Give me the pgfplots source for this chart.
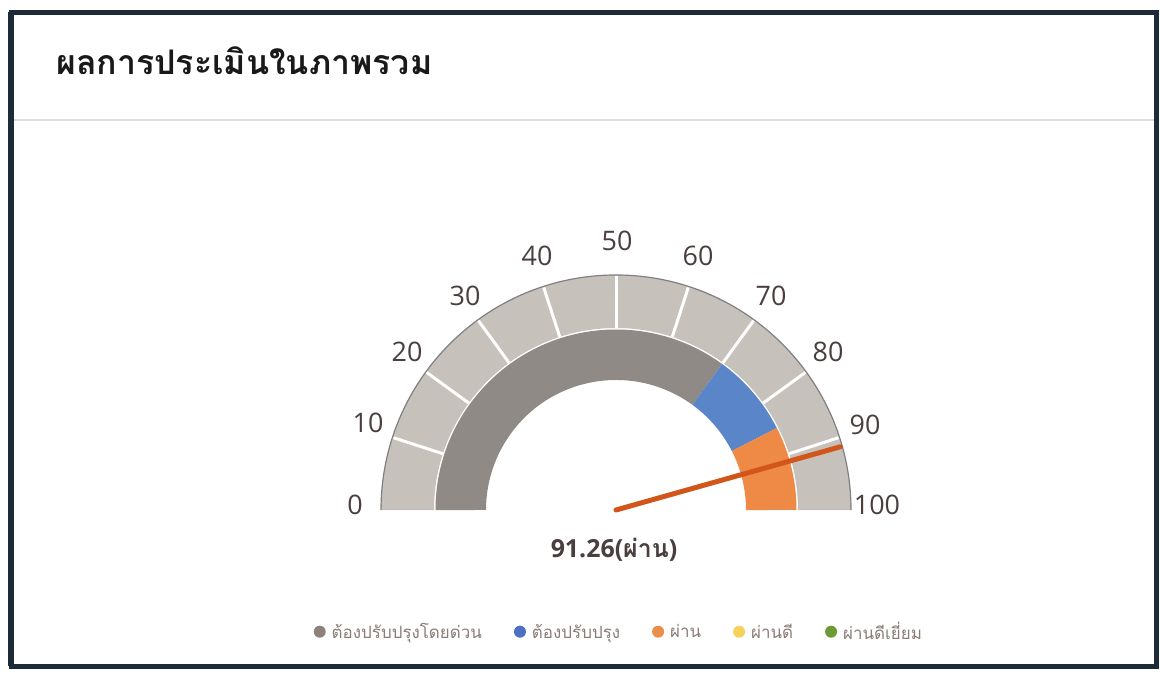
\documentclass[border=0pt]{standalone}
\usepackage{pgfplots}
\pgfplotsset{compat=1.18}
\usepackage{fontspec}
\setmainfont{Open Sans}
\newfontfamily\thai[Script=Thai]{Loma}
\definecolor{frame}{HTML}{1D2A38}
\definecolor{lightband}{HTML}{C6C1BB}
\definecolor{darkband}{HTML}{8F8A85}
\definecolor{blueband}{HTML}{5A85C8}
\definecolor{orangeband}{HTML}{EF8A46}
\definecolor{needle}{HTML}{D2561C}
\definecolor{ticktext}{HTML}{4A3E3E}
\definecolor{legtext}{HTML}{8A7C76}
\definecolor{leggray}{HTML}{8F807B}
\definecolor{legblue}{HTML}{4C70C4}
\definecolor{legorange}{HTML}{E98F4B}
\definecolor{legyellow}{HTML}{F6D25C}
\definecolor{leggreen}{HTML}{6B9B32}
\pgfplotsset{
  legdot/.style={legend image code/.code={
    \fill[#1, draw=none] (0bp,0bp) circle (6bp);
    \path[draw=none, fill=none] (-6bp,0bp) -- (10bp,0bp);}}
}
\begin{document}
\begin{tikzpicture}
\begin{axis}[
  width=1161bp, height=672bp, scale only axis,
  xmin=0, xmax=1161, ymin=0, ymax=672,
  hide axis, clip=false,
  legend columns=5,
  legend style={at={(0.533,0.06)}, anchor=center, draw=none, fill=none,
    font=\fontsize{17}{19}\selectfont\thai\color{legtext},
    /tikz/every even column/.append style={column sep=30bp}},
  legend cell align=left,
]
% background and frame
\fill[white] (axis cs:0,0) rectangle (axis cs:1161,672);
\draw[frame, line width=5bp] (axis cs:11.5,6) rectangle (axis cs:1156.5,659.5);
\draw[frame, line width=4bp] (axis cs:10,6) -- (axis cs:10,659.5);
\draw[black!13, line width=2bp] (axis cs:14,552) -- (axis cs:1154,552);
\node[anchor=west, inner sep=0pt, font=\fontsize{34}{38}\selectfont\thai\bfseries, text=black!90] at (axis cs:56,611) {ผลการประเมินในภาพรวม};

% outer scale band
\fill[lightband] (axis cs:381,162) arc[start angle=180, end angle=0, radius=235bp]
   -- (axis cs:798,162) arc[start angle=0, end angle=180, radius=182bp] -- cycle;
\draw[black!50, line width=1.2bp] (axis cs:381,162) arc[start angle=180, end angle=0, radius=235bp];
\pgfplotsinvokeforeach{10,20,30,40,50,60,70,80,90}{
  \draw[white, line width=3bp] (axis cs:{616+182*cos(180-1.8*#1)},{162+182*sin(180-1.8*#1)})
     -- (axis cs:{616+234*cos(180-1.8*#1)},{162+234*sin(180-1.8*#1)});
}
% inner result band: 0-70 gray, 70-85 blue, 85-100 orange
\fill[darkband] (axis cs:435.5,162) arc[start angle=180, end angle={180-1.8*70}, radius=180.5bp]
   -- (axis cs:{616+130*cos(180-1.8*70)},{162+130*sin(180-1.8*70)}) arc[start angle={180-1.8*70}, end angle=180, radius=130bp] -- cycle;
\fill[blueband] (axis cs:{616+180.5*cos(180-1.8*70)},{162+180.5*sin(180-1.8*70)}) arc[start angle={180-1.8*70}, end angle={180-1.8*85}, radius=180.5bp]
   -- (axis cs:{616+130*cos(180-1.8*85)},{162+130*sin(180-1.8*85)}) arc[start angle={180-1.8*85}, end angle={180-1.8*70}, radius=130bp] -- cycle;
\fill[orangeband] (axis cs:{616+180.5*cos(180-1.8*85)},{162+180.5*sin(180-1.8*85)}) arc[start angle={180-1.8*85}, end angle=0, radius=180.5bp]
   -- (axis cs:746,162) arc[start angle=0, end angle={180-1.8*85}, radius=130bp] -- cycle;

% needle at 91.26
\addplot[needle, line width=5bp, line cap=round, forget plot] coordinates {(616,162) (840.3,225.2)};

% tick labels
\begin{scope}[every node/.style={font=\fontsize{27}{30}\selectfont, text=ticktext, inner sep=0pt}]
\node at (axis cs:355,167) {0};
\node at (axis cs:368,249) {10};
\node at (axis cs:407,320) {20};
\node at (axis cs:465,376) {30};
\node at (axis cs:537,416) {40};
\node at (axis cs:617,431) {50};
\node at (axis cs:698,416) {60};
\node at (axis cs:771,376) {70};
\node at (axis cs:828,320) {80};
\node at (axis cs:865,247) {90};
\node at (axis cs:877,167) {100};
\end{scope}
\node[font=\fontsize{25}{28}\selectfont\bfseries, text=ticktext, inner sep=0pt] at (axis cs:614,122) {91.26({\thai\bfseries ผ่าน})};

% legend
\addlegendimage{legdot=leggray}
\addlegendentry{ต้องปรับปรุงโดยด่วน}
\addlegendimage{legdot=legblue}
\addlegendentry{ต้องปรับปรุง}
\addlegendimage{legdot=legorange}
\addlegendentry{ผ่าน}
\addlegendimage{legdot=legyellow}
\addlegendentry{ผ่านดี}
\addlegendimage{legdot=leggreen}
\addlegendentry{ผ่านดีเยี่ยม}
\end{axis}
\end{tikzpicture}
\end{document}
